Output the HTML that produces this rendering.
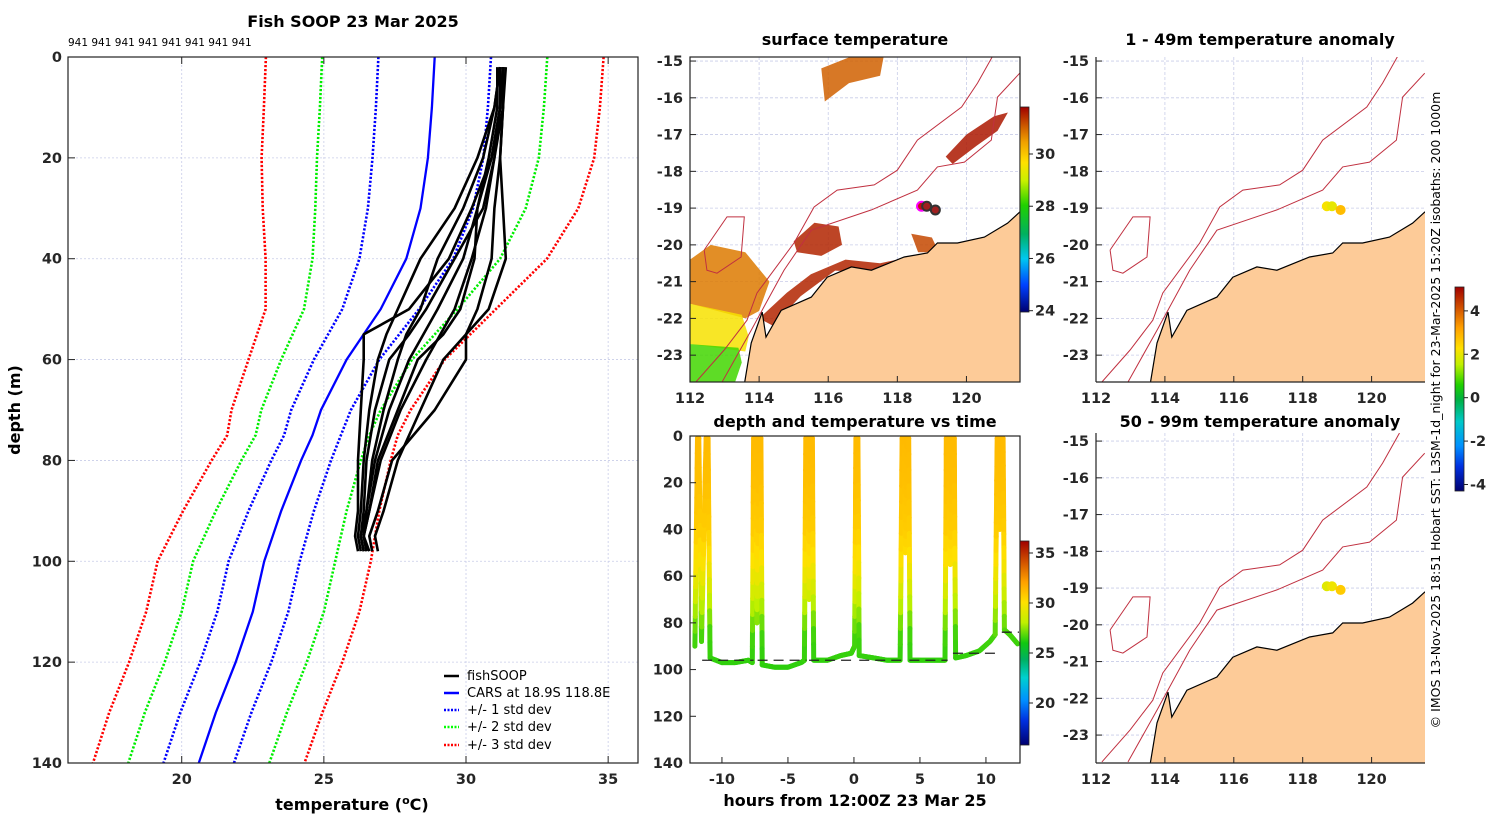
<!DOCTYPE html>
<html><head><meta charset="utf-8"><style>
body{margin:0;background:#fff;}
svg{display:block;font-family:"DejaVu Sans","Liberation Sans",sans-serif;}
.tk{font-size:14.5px;font-weight:bold;fill:#262626;}
.tt{font-size:16px;font-weight:bold;fill:#000;}
.lg{font-size:13px;fill:#000;}
</style></head><body>
<svg id="fig" width="1500" height="820" viewBox="0 0 1500 820">
<defs>
<linearGradient id="gSST" x1="0" y1="1" x2="0" y2="0">
<stop offset="0" stop-color="#000070"/><stop offset="0.13" stop-color="#0040ff"/><stop offset="0.26" stop-color="#00c8f0"/><stop offset="0.38" stop-color="#00b060"/><stop offset="0.52" stop-color="#20d000"/><stop offset="0.64" stop-color="#c8f000"/><stop offset="0.73" stop-color="#ffe000"/><stop offset="0.83" stop-color="#f0a000"/><stop offset="0.9" stop-color="#d06000"/><stop offset="1" stop-color="#a00000"/>
</linearGradient>
<linearGradient id="gTV" x1="0" y1="1" x2="0" y2="0">
<stop offset="0" stop-color="#000070"/><stop offset="0.12" stop-color="#0030e0"/><stop offset="0.22" stop-color="#0090ff"/><stop offset="0.33" stop-color="#00d0d0"/><stop offset="0.42" stop-color="#00b060"/><stop offset="0.5" stop-color="#10c810"/><stop offset="0.6" stop-color="#c0f000"/><stop offset="0.7" stop-color="#ffe000"/><stop offset="0.8" stop-color="#ffa000"/><stop offset="0.9" stop-color="#d05000"/><stop offset="1" stop-color="#a00000"/>
</linearGradient>
<linearGradient id="gAN" x1="0" y1="1" x2="0" y2="0">
<stop offset="0" stop-color="#000070"/><stop offset="0.12" stop-color="#0030e0"/><stop offset="0.22" stop-color="#0090ff"/><stop offset="0.34" stop-color="#00c8c8"/><stop offset="0.45" stop-color="#00b040"/><stop offset="0.52" stop-color="#20d000"/><stop offset="0.62" stop-color="#c0f000"/><stop offset="0.7" stop-color="#ffe000"/><stop offset="0.8" stop-color="#ffa000"/><stop offset="0.9" stop-color="#d05000"/><stop offset="1" stop-color="#a00000"/>
</linearGradient>
<clipPath id="cL"><rect x="68" y="57" width="570" height="706"/></clipPath>
<clipPath id="cM"><rect x="690" y="57" width="330" height="325"/></clipPath>
<clipPath id="cT"><rect x="690" y="436" width="330" height="327"/></clipPath>
<clipPath id="cR1"><rect x="1096" y="57" width="329" height="325"/></clipPath>
<clipPath id="cR2"><rect x="1096" y="433" width="329" height="330"/></clipPath>
</defs>

<text class="tt" x="353" y="27" text-anchor="middle">Fish SOOP 23 Mar 2025</text>
<text x="68" y="46" font-size="10.5">941 941 941 941 941 941 941 941</text>
<text class="tt" x="855" y="45" text-anchor="middle">surface temperature</text>
<text class="tt" x="855" y="427" text-anchor="middle">depth and temperature vs time</text>
<text class="tt" x="1260" y="45" text-anchor="middle">1 - 49m temperature anomaly</text>
<text class="tt" x="1260" y="427" text-anchor="middle">50 - 99m temperature anomaly</text>
<text class="tt" x="352" y="810" text-anchor="middle">temperature (<tspan dy="-6" font-size="11">o</tspan><tspan dy="6">C)</tspan></text>
<text class="tt" x="20" y="410" text-anchor="middle" transform="rotate(-90 20 410)">depth (m)</text>
<text class="tt" x="855" y="806" text-anchor="middle">hours from 12:00Z 23 Mar 25</text>
<text x="1440" y="410" font-size="12.5" text-anchor="middle" transform="rotate(-90 1440 410)">© IMOS 13-Nov-2025 18:51 Hobart SST: L3SM-1d_night for 23-Mar-2025 15:20Z isobaths: 200  1000m</text>

<g id="left"></g>
<g id="mid"></g>
<g id="tv"></g>
<g id="r1"></g>
<g id="r2"></g>

<g>
<line x1="444" y1="676" x2="459" y2="676" stroke="#000" stroke-width="2.5"/><text class="lg" x="467" y="680">fishSOOP</text>
<line x1="444" y1="693" x2="459" y2="693" stroke="#00f" stroke-width="2.5"/><text class="lg" x="467" y="697">CARS at 18.9S 118.8E</text>
<line x1="444" y1="710" x2="459" y2="710" stroke="#00f" stroke-width="2.5" stroke-dasharray="2 1.5"/><text class="lg" x="467" y="714">+/- 1 std dev</text>
<line x1="444" y1="727" x2="459" y2="727" stroke="#0f0" stroke-width="2.5" stroke-dasharray="2 1.5"/><text class="lg" x="467" y="731">+/- 2 std dev</text>
<line x1="444" y1="745" x2="459" y2="745" stroke="#f00" stroke-width="2.5" stroke-dasharray="2 1.5"/><text class="lg" x="467" y="749">+/- 3 std dev</text>
</g>
</svg>
<script>
// ---- profile data ----
const carsDepths=[0,10,20,30,40,50,60,70,75,80,90,100,110,120,130,140];
const carsMean=[28.9,28.8,28.66,28.4,27.9,27.0,25.8,24.9,24.6,24.2,23.5,22.9,22.5,21.9,21.2,20.6];
const carsStd=[1.98,1.97,1.95,1.85,1.65,1.35,1.15,1.05,1.0,1.05,1.15,1.25,1.25,1.25,1.25,1.24];
const fishDepths=[2,10,20,30,40,50,55,60,70,80,90,95,98];
const fishP1=[31.3,31.2,30.9,30.2,29.4,28.0,26.4,26.4,26.3,26.2,26.2,26.1,26.2];
const fishP2=[31.2,31.0,30.4,29.6,28.4,27.6,27.2,26.9,26.6,26.4,26.3,26.2,26.3];
const fishP3=[31.4,31.3,31.0,30.6,29.6,28.6,28.0,27.3,26.8,26.5,26.4,26.3,26.4];
const fishP4=[31.3,31.3,31.2,31.3,31.4,30.8,30.0,29.2,28.4,27.6,27.1,26.8,26.9];
const fishP5=[31.2,31.0,30.6,29.9,29.0,28.4,27.9,27.6,27.1,26.7,26.5,26.3,26.4];
const fishP6=[31.3,31.2,31.0,30.7,30.2,29.6,29.1,28.6,27.7,27.0,26.6,26.4,26.5];
const fishP7=[31.1,31.1,30.8,30.4,29.9,29.0,28.5,28.0,27.3,26.8,26.5,26.4,26.5];
const fishP8=[31.3,31.3,31.2,31.0,30.9,30.4,30.0,30.0,28.9,27.4,26.9,26.6,26.7];
const fishP9=[31.2,31.2,30.9,30.4,30.3,29.8,29.2,28.3,27.6,26.9,26.6,26.4,26.6];
const tempTicks=[20,25,30,35];
const depthTicks=[0,20,40,60,80,100,120,140];
// ---- depth vs time data ----
const tvTimes=[-12.05,-11.85,-11.75,-11.55,-11.2,-11.05,-10.9,-10,-9,-8,-7.7,-7.6,-7.45,-7.35,-7.2,-7.05,-6.95,-6,-5,-4,-3.75,-3.65,-3.5,-3.4,-3.3,-3.15,-3.05,-2,-1,-0.2,0.05,0.15,0.3,0.4,1.5,2.5,3.5,3.65,3.8,3.9,4.0,4.15,4.25,5,6,6.9,7.0,7.15,7.3,7.45,7.6,7.7,8.5,9.5,10.3,10.7,10.85,10.95,11.05,11.15,11.3,11.4,11.8,12.4];
const tvDepths=[90,1,1,88,1,1,95,97,97,96,97,1,1,80,1,1,98,99,99,97,96,1,1,70,1,1,96,96,94,93,90,1,1,94,95,96,96,1,1,50,1,1,96,96,96,96,1,1,55,1,1,95,94,92,88,85,1,1,40,1,1,83,85,89];
const tvProfDepths=[0,20,40,55,65,75,85,100];
const tvProfTemps=[31.2,31.0,30.6,29.8,28.8,27.6,26.6,26.3];
const tvTimeTicks=[-10,-5,0,5,10];
const tvDepthTicks=[0,20,40,60,80,100,120,140];
const bottomTimes=[-11.5,-7.6,-7.3,-3.6,-3.4,0.2,0.4,3.7,4.2,7.1,7.5,10.8,11.2,12.5];
const bottomDepths=[96,96,96,96,96,96,96,96,96,96,93,93,84,84];
// ---- maps ----
const coastLon=[113.57,113.77,114.09,114.2,114.64,115.51,115.97,116.67,117.25,118.2,118.87,119.16,119.74,120.52,121.19,121.54];
const coastLat=[-23.8,-22.67,-21.83,-22.51,-21.78,-21.42,-20.88,-20.6,-20.69,-20.33,-20.22,-19.95,-19.95,-19.79,-19.41,-19.11];
const iso1Lon=[112.17,112.99,113.65,113.94,115.01,115.59,116.26,117.33,118.0,118.58,119.86,120.32,120.81];
const iso1Lat=[-23.73,-22.86,-22.05,-21.31,-19.95,-18.97,-18.51,-18.37,-17.97,-17.15,-16.25,-15.6,-14.78];
const iso2Lon=[112.93,113.77,114.72,115.51,117.25,118.58,119.16,119.94,120.72,120.9,121.54];
const iso2Lat=[-23.73,-22.32,-20.69,-19.6,-19.05,-18.51,-17.88,-17.75,-17.15,-15.98,-15.33];
const islandLon=[112.41,113.07,113.57,113.48,112.78,112.49,112.41];
const islandLat=[-20.14,-19.24,-19.24,-20.33,-20.77,-20.69,-20.14];
const lonTicks=[112,114,116,118,120];
const latTicks=[-15,-16,-17,-18,-19,-20,-21,-22,-23];
const sstBlobLon=[[114.0,114.8,115.5,116.5,117.5,118.5,119.0,118.2,117.2,116.2,115.2,114.4],[115.0,115.6,116.3,116.4,115.8,115.1],[112.0,112.6,113.6,114.3,114.0,113.6,112.0],[112.0,113.5,113.7,113.6,112.0],[112.0,113.4,113.5,113.3,112.0],[119.4,120.0,120.8,121.2,120.9,120.3,119.6],[115.8,116.6,117.6,117.5,116.6,115.9],[118.4,119.0,119.2,118.6]];
const sstBlobLat=[[-22.0,-21.3,-20.8,-20.4,-20.5,-20.3,-20.2,-20.6,-20.75,-20.7,-21.4,-22.2],[-19.9,-19.4,-19.5,-20.0,-20.3,-20.2],[-20.4,-20.0,-20.2,-21.0,-21.8,-22.0,-21.6],[-21.6,-21.9,-22.5,-22.9,-22.7],[-22.7,-22.8,-23.2,-23.75,-23.75],[-17.6,-17.0,-16.5,-16.4,-16.9,-17.3,-17.8],[-15.2,-14.9,-14.9,-15.4,-15.6,-16.1],[-19.7,-19.8,-20.2,-20.2]];
const sstBlobTemp=[31.5,31.5,30.8,29.6,28.2,31.6,31.0,31.2];
const shipLon=[118.7,118.85,119.1];
const shipLat=[-18.95,-18.95,-19.05];
const anomShallow=[2.2,2.0,2.8];
const anomDeep=[1.9,2.1,2.6];
const sstTicks=[24,26,28,30];
const tvcTicks=[20,25,30,35];
const anTicks=[-4,-2,0,2,4];

const NS='http://www.w3.org/2000/svg';
function mk(tag,attrs,parent){const e=document.createElementNS(NS,tag);for(const k in attrs)e.setAttribute(k,attrs[k]);parent.appendChild(e);return e;}
function interp(xs,ys,x){if(x<=xs[0])return ys[0];for(let i=1;i<xs.length;i++){if(x<=xs[i]){const f=(x-xs[i-1])/(xs[i]-xs[i-1]);return ys[i-1]+f*(ys[i]-ys[i-1]);}}return ys[ys.length-1];}
function hexc(h){return [parseInt(h.substr(1,2),16),parseInt(h.substr(3,2),16),parseInt(h.substr(5,2),16)];}
function cmapFn(stops,cols,v){if(v<=stops[0])return cols[0];for(let i=1;i<stops.length;i++){if(v<=stops[i]){const f=(v-stops[i-1])/(stops[i]-stops[i-1]);const a=hexc(cols[i-1]),b=hexc(cols[i]);return 'rgb('+a.map((c,j)=>Math.round(c+f*(b[j]-c))).join(',')+')';}}return cols[cols.length-1];}
const tvStops=[16,18.5,20.5,22.6,24.4,26,28,30,32,34,36.2];
const tvCols=['#000070','#0030e0','#0090ff','#00d0d0','#00b060','#10c810','#c0f000','#ffe000','#ffa000','#d05000','#a00000'];
const sstStops=[24,25,26,27,28,29,29.7,30.5,31,31.8];
const sstCols=['#000070','#0040ff','#00c8f0','#00b060','#20d000','#c8f000','#ffe000','#f0a000','#d06000','#a00000'];
const anStops=[-4.3,-3.2,-2.2,-1.1,-0.1,0.6,1.5,2.3,3.2,4.2,5.1];
const anCols=['#000070','#0030e0','#0090ff','#00c8c8','#00b040','#20d000','#c0f000','#ffe000','#ffa000','#d05000','#a00000'];

// ===== left panel =====
(function(){
const g=document.getElementById('left');
const X0=68,X1=638,Y0=57,Y1=763,T0=16,T1=36.05,D1=140;
const xs=t=>X0+(t-T0)/(T1-T0)*(X1-X0), ys=d=>Y0+d/D1*(Y1-Y0);
tempTicks.forEach(t=>{const l=mk('line',{x1:xs(t),x2:xs(t),y1:Y0,y2:Y1,stroke:'#c8cce8','stroke-width':0.8,'stroke-dasharray':'2 2'},g);});
depthTicks.slice(1,-1).forEach(d=>{const l=mk('line',{x1:X0,x2:X1,y1:ys(d),y2:ys(d),stroke:'#c8cce8','stroke-width':0.8,'stroke-dasharray':'2 2'},g);});
const cg=mk('g',{'clip-path':'url(#cL)'},g);
const lines=[[0,'#00f',false],[-1,'#00f',true],[1,'#00f',true],[-2,'#00ee00',true],[2,'#00ee00',true],[-3,'#f00',true],[3,'#f00',true]];
lines.forEach(([k,c,dot])=>{const p=carsDepths.map((d,i)=>xs(carsMean[i]+k*carsStd[i]).toFixed(1)+','+ys(d).toFixed(1)).join(' ');
const e=mk('polyline',{points:p,fill:'none',stroke:c,'stroke-width':dot?2.6:2.3},cg);if(dot)e.setAttribute('stroke-dasharray','2.2 1.8');
});
[fishP1,fishP2,fishP3,fishP4,fishP5,fishP6,fishP7,fishP8,fishP9].forEach(P=>{const p=fishDepths.map((d,i)=>xs(P[i]).toFixed(1)+','+ys(d).toFixed(1)).join(' ');
const e=mk('polyline',{points:p,fill:'none',stroke:'#000','stroke-width':2.6,'stroke-linejoin':'round'},cg);});
const fr=mk('rect',{x:X0,y:Y0,width:X1-X0,height:Y1-Y0,fill:'none',stroke:'#222','stroke-width':1.2},g);
tempTicks.forEach(t=>{mk('line',{x1:xs(t),x2:xs(t),y1:Y1,y2:Y1-7,stroke:'#222'},g);mk('line',{x1:xs(t),x2:xs(t),y1:Y0,y2:Y0+7,stroke:'#222'},g);
const e=mk('text',{x:xs(t),y:Y1+21,'text-anchor':'middle',class:'tk'},g);e.textContent=t;});
depthTicks.forEach(d=>{mk('line',{x1:X0,x2:X0+7,y1:ys(d),y2:ys(d),stroke:'#222'},g);
const e=mk('text',{x:X0-6,y:ys(d)+5,'text-anchor':'end',class:'tk'},g);e.textContent=d;});
})();

// ===== map helper =====
function drawMap(gid,X0,X1,Y0,Y1,latTop,latBot,clip,fullBox,drawSST,anom){
const g=document.getElementById(gid);
const lonL=112,lonR=121.55;
const px=lo=>X0+(lo-lonL)/(lonR-lonL)*(X1-X0), py=la=>Y0+(latTop-la)/(latTop-latBot)*(Y1-Y0);
lonTicks.forEach(lo=>{const l=mk('line',{x1:px(lo),x2:px(lo),y1:Y0,y2:Y1,stroke:'#c8cce8','stroke-width':0.8,'stroke-dasharray':'3 2'},g);});
latTicks.forEach(la=>{const l=mk('line',{x1:X0,x2:X1,y1:py(la),y2:py(la),stroke:'#c8cce8','stroke-width':0.8,'stroke-dasharray':'3 2'},g);});
const cg=mk('g',{'clip-path':'url(#'+clip+')'},g);
if(drawSST){sstBlobLon.forEach((L,i)=>{const p=L.map((lo,j)=>px(lo).toFixed(1)+','+py(sstBlobLat[i][j]).toFixed(1)).join(' ');
const e=mk('polygon',{points:p,fill:cmapFn(sstStops,sstCols,sstBlobTemp[i]),'fill-opacity':0.85},cg);});}
let lp=coastLon.map((lo,i)=>px(lo).toFixed(1)+','+py(coastLat[i]).toFixed(1)).join(' ');
lp+=' '+(X1+5)+','+py(coastLat[coastLat.length-1]).toFixed(1)+' '+(X1+5)+','+(Y1+5)+' '+px(coastLon[0]).toFixed(1)+','+(Y1+5);
const land=mk('polygon',{points:lp,fill:'#fdcb98',stroke:'#000','stroke-width':1.2},cg);
[[iso1Lon,iso1Lat],[iso2Lon,iso2Lat],[islandLon,islandLat]].forEach(([L,A])=>{const e=mk('polyline',{points:L.map((lo,i)=>px(lo).toFixed(1)+','+py(A[i]).toFixed(1)).join(' '),fill:'none',stroke:'#c03040','stroke-width':1},cg);});
shipLon.forEach((lo,i)=>{let fill,stroke;if(anom){fill=cmapFn(anStops,anCols,anom[i]);stroke='none';}else{fill=i==0?'#c01010':'#a02020';stroke=i==0?'#ff00ff':'#333';}
const e=mk('circle',{cx:px(lo),cy:py(shipLat[i]),r:anom?5:4.5,fill:fill,stroke:stroke,'stroke-width':anom?0:2},cg);});
if(fullBox){const f=mk('rect',{x:X0,y:Y0,width:X1-X0,height:Y1-Y0,fill:'none',stroke:'#222','stroke-width':1.2},g);}
else{mk('line',{x1:X0,x2:X0,y1:Y0,y2:Y1,stroke:'#222','stroke-width':1.2},g);mk('line',{x1:X0,x2:X1,y1:Y1,y2:Y1,stroke:'#222','stroke-width':1.2},g);}
lonTicks.forEach(lo=>{mk('line',{x1:px(lo),x2:px(lo),y1:Y1,y2:Y1-6,stroke:'#222'},g);const e=mk('text',{x:px(lo),y:Y1+21,'text-anchor':'middle',class:'tk'},g);e.textContent=lo;});
latTicks.forEach(la=>{mk('line',{x1:X0,x2:X0+6,y1:py(la),y2:py(la),stroke:'#222'},g);const e=mk('text',{x:X0-7,y:py(la)+5,'text-anchor':'end',class:'tk'},g);e.textContent=la;});
}
drawMap('mid',690,1020,57,382,-14.89,-23.73,'cM',true,true,null);
drawMap('r1',1096,1425,57,382,-14.89,-23.73,'cR1',false,false,anomShallow);
drawMap('r2',1096,1425,433,763,-14.78,-23.76,'cR2',false,false,anomDeep);

// ===== depth vs time =====
(function(){
const g=document.getElementById('tv');
const X0=690,X1=1020,Y0=436,Y1=763,H0=-12.42,H1=12.58;
const xs=h=>X0+(h-H0)/(H1-H0)*(X1-X0), ys=d=>Y0+d/140*(Y1-Y0);
const cg=mk('g',{'clip-path':'url(#cT)'},g);
for(let i=1;i<tvTimes.length;i++){const n=14;for(let k=0;k<n;k++){
const t0=tvTimes[i-1]+(tvTimes[i]-tvTimes[i-1])*k/n,t1=tvTimes[i-1]+(tvTimes[i]-tvTimes[i-1])*(k+1)/n;
const d0=tvDepths[i-1]+(tvDepths[i]-tvDepths[i-1])*k/n,d1=tvDepths[i-1]+(tvDepths[i]-tvDepths[i-1])*(k+1)/n;
const c=cmapFn(tvStops,tvCols,interp(tvProfDepths,tvProfTemps,(d0+d1)/2));
const e=mk('line',{x1:xs(t0).toFixed(1),y1:ys(d0).toFixed(1),x2:xs(t1).toFixed(1),y2:ys(d1).toFixed(1),stroke:c,'stroke-width':5,'stroke-linecap':'round'},cg);
}}
for(let i=0;i<bottomTimes.length;i+=2){const e=mk('line',{x1:xs(bottomTimes[i]),x2:xs(bottomTimes[i+1]),y1:ys(bottomDepths[i]),y2:ys(bottomDepths[i+1]),stroke:'#222','stroke-width':1.3,'stroke-dasharray':'10 6'},cg);}
const f=mk('rect',{x:X0,y:Y0,width:X1-X0,height:Y1-Y0,fill:'none',stroke:'#222','stroke-width':1.2},g);
tvTimeTicks.forEach(h=>{mk('line',{x1:xs(h),x2:xs(h),y1:Y1,y2:Y1-6,stroke:'#222'},g);const e=mk('text',{x:xs(h),y:Y1+21,'text-anchor':'middle',class:'tk'},g);e.textContent=h;});
tvDepthTicks.forEach(d=>{mk('line',{x1:X0,x2:X0+6,y1:ys(d),y2:ys(d),stroke:'#222'},g);const e=mk('text',{x:X0-7,y:ys(d)+5,'text-anchor':'end',class:'tk'},g);e.textContent=d;});
})();

// ===== colorbars =====
function cbar(x,y0,y1,v0,v1,grad,ticks,name){
const svg=document.getElementById('fig');
const r=mk('rect',{x:x,y:y0,width:9,height:y1-y0,fill:'url(#'+grad+')',stroke:'#222','stroke-width':0.8},svg);
ticks.forEach(v=>{const y=y1-(v-v0)/(v1-v0)*(y1-y0);mk('line',{x1:x+9,x2:x+13,y1:y,y2:y,stroke:'#222'},svg);
const e=mk('text',{x:x+15,y:y+5,class:'tk','font-size':'13px'},svg);e.textContent=v;});}
cbar(1020,107,312,23.95,31.8,'gSST',sstTicks,'sst-colorbar');
cbar(1020,541,745,15.8,36.2,'gTV',tvcTicks,'time-colorbar');
cbar(1455,287,491,-4.3,5.1,'gAN',anTicks,'anomaly-colorbar');
</script>
</body></html>
